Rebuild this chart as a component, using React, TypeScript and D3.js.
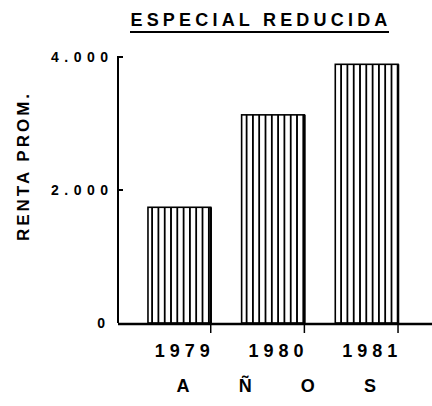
import * as d3 from 'd3';

const years = ['1979', '1980', '1981'];
const renta = [1740, 3130, 3890];
const yTicks = [0, 2000, 4000];
const yTickLabels = ['0', '2.000', '4.000'];
const xTitleLetters = ['A', 'Ñ', 'O', 'S'];

const width = 432;
const height = 406;

function App() {
  const x = d3.scaleBand<string>()
    .domain(years)
    .range([118, 428])
    .paddingInner(0.33)
    .paddingOuter(0.32);
  const y = d3.scaleLinear().domain([0, 4000]).range([323, 57]);
  const font = '"Liberation Sans", Arial, sans-serif';
  const x0 = x.range()[0];
  const y0 = y(0);

  // "A Ñ O S" spread under the axis
  const letterX = d3.scalePoint<string>().domain(xTitleLetters).range([183, 370]);

  const tickSpacing = 5.5;
  const yearSpacing = 5;

  return (
    <svg width={width} height={height} style={{ position: 'absolute', left: 0, top: 0, background: '#fff' }}
      fontFamily={font} fontWeight="bold">
      <defs>
        <pattern id="vlines" patternUnits="userSpaceOnUse" width={6.3} height={10}>
          <rect x={0} y={0} width={1.8} height={10} fill="#000" />
        </pattern>
      </defs>

      {/* title */}
      <text x={261} y={26} textAnchor="middle" fontSize={18} letterSpacing={4.2} fill="#000">ESPECIAL REDUCIDA</text>
      <line x1={130} x2={389} y1={32} y2={32} stroke="#000" strokeWidth={2.2} />

      {/* y label */}
      <text transform="translate(29,166) rotate(-90)" textAnchor="middle" fontSize={17} letterSpacing={3} fill="#000">RENTA PROM.</text>

      {/* bars */}
      {years.map((yr, i) => {
        const bx = x(yr)!;
        const bw = x.bandwidth();
        const top = y(renta[i]);
        return (
          <g key={yr}>
            <rect x={bx} y={top} width={bw} height={y0 - top} fill="url(#vlines)" />
            <rect x={bx} y={top} width={bw} height={y0 - top} fill="none" stroke="#000" strokeWidth={1.6} />
            <line x1={bx + bw} x2={bx + bw} y1={top} y2={y0} stroke="#000" strokeWidth={2.5} />
          </g>
        );
      })}

      {/* y axis */}
      <line x1={x0} x2={x0} y1={y(4000) - 1} y2={y0} stroke="#000" strokeWidth={2} />
      {yTicks.map((t, i) => (
        <g key={t}>
          {t > 0 && <line x1={x0} x2={x0 + 5} y1={y(t)} y2={y(t)} stroke="#000" strokeWidth={2} />}
          <text x={(t === 0 ? 105 : 108) + tickSpacing} y={y(t)} dy="0.35em" textAnchor="end" fontSize={14}
            letterSpacing={tickSpacing} fill="#000">
            {yTickLabels[i]}
          </text>
        </g>
      ))}

      {/* x axis */}
      <line x1={x0} x2={width} y1={y0 + 1} y2={y0 + 1} stroke="#000" strokeWidth={2.5} />
      {years.map(yr => {
        const tx = x(yr)! + x.bandwidth();
        return <line key={yr} x1={tx} x2={tx} y1={y0} y2={y0 + 10} stroke="#000" strokeWidth={1.5} />;
      })}
      {years.map(yr => (
        <text key={yr} x={x(yr)! + x.bandwidth() / 2 + 3 + yearSpacing / 2} y={357} textAnchor="middle" fontSize={18}
          letterSpacing={yearSpacing} fill="#000">
          {yr}
        </text>
      ))}

      {xTitleLetters.map(l => (
        <text key={l} x={letterX(l)} y={392} textAnchor="middle" fontSize={18} fill="#000">{l}</text>
      ))}
    </svg>
  );
}

export default App;
